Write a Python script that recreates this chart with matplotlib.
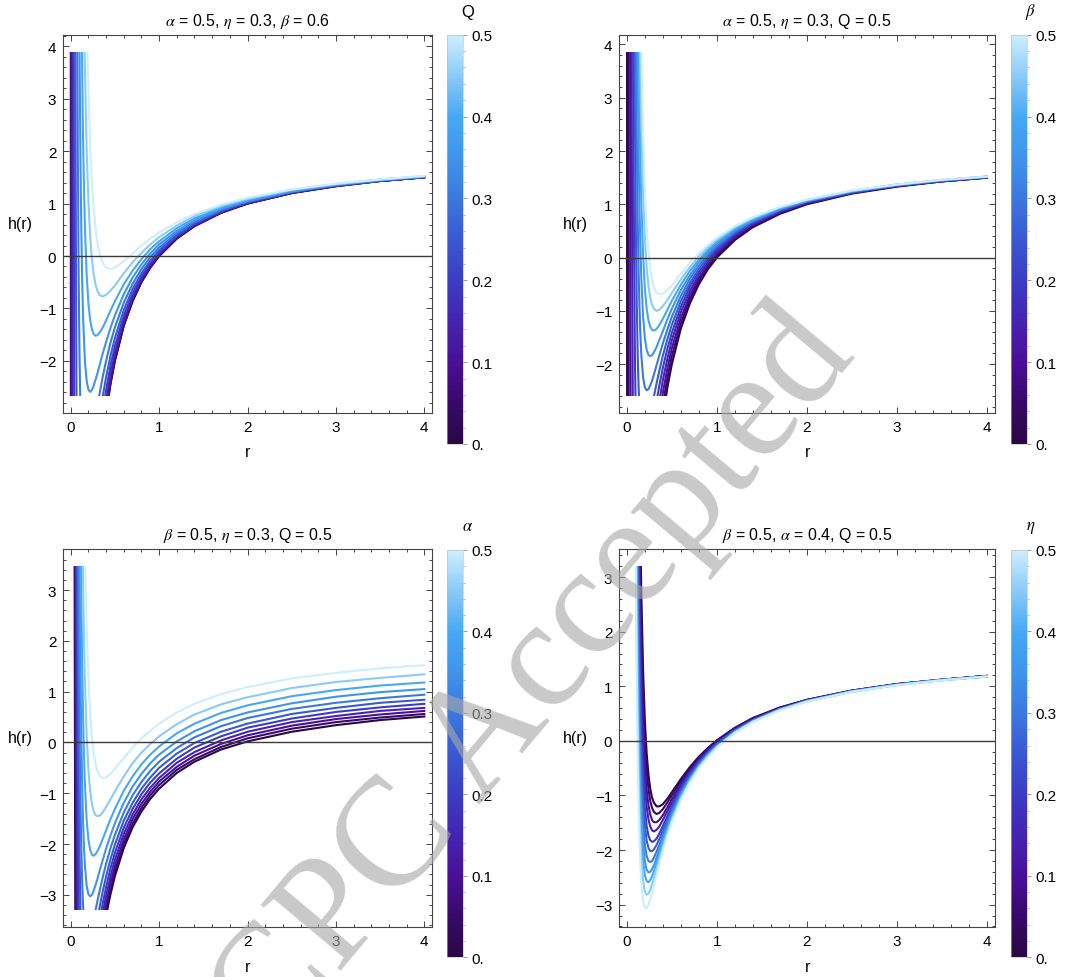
import numpy as np
import matplotlib.pyplot as plt
from matplotlib.colors import LinearSegmentedColormap, Normalize
from matplotlib.cm import ScalarMappable
from matplotlib.patches import Rectangle
from matplotlib.ticker import MultipleLocator, FixedLocator

plt.rcParams['font.family'] = ['Liberation Sans', 'DejaVu Sans']
plt.rcParams['mathtext.fontset'] = 'stix'

nan = np.nan

# outer part of every curve, shared r grid (r >= 0.5)
far_r = [0.5, 0.6, 0.7, 0.8, 0.9, 1.0, 1.2, 1.4, 1.7, 2.0, 2.5, 3.0, 3.5, 4.0]

# ---------------- Q sweep (alpha = 0.5, eta = 0.3, beta = 0.6)
q_vals = [0.0, 0.05, 0.1, 0.15, 0.2, 0.25, 0.3, 0.35, 0.4, 0.45, 0.5]
q_near_r = [
    [0.002, 0.003, nan, 0.40, 0.45],
    [0.002, 0.0025, nan, 0.40, 0.45],
    [0.008, 0.010, nan, 0.40, 0.45],
    [0.018, 0.020, 0.022, nan, 0.36, 0.40, 0.45],
    [0.033, 0.036, 0.040, nan, 0.36, 0.40, 0.45],
    [0.050, 0.055, 0.060, 0.065, 0.070, nan, 0.33, 0.36, 0.40, 0.45],
    [0.07, 0.08, 0.09, 0.10, 0.11, nan, 0.28, 0.30, 0.33, 0.36, 0.40, 0.45],
    [0.09, 0.10, 0.11, 0.12, 0.13, 0.14, 0.16, 0.18, 0.20, 0.22, 0.24, 0.26, 0.28, 0.30, 0.33, 0.36, 0.40, 0.45],
    [0.12, 0.13, 0.14, 0.15, 0.16, 0.18, 0.20, 0.22, 0.24, 0.26, 0.28, 0.30, 0.33, 0.36, 0.40, 0.45],
    [0.14, 0.15, 0.16, 0.18, 0.20, 0.22, 0.24, 0.26, 0.28, 0.30, 0.33, 0.36, 0.40, 0.45],
    [0.18, 0.19, 0.20, 0.22, 0.24, 0.26, 0.28, 0.30, 0.33, 0.36, 0.40, 0.45],
]
q_near_h = [
    [5.0, -5.0, nan, -3.00, -2.44],
    [6.0, -4.0, nan, -2.97, -2.42],
    [30.0, -20.0, nan, -2.89, -2.36],
    [14.4, 2.00, -6.30, nan, -3.25, -2.75, -2.25],
    [6.78, 1.38, -3.50, nan, -3.00, -2.56, -2.09],
    [6.40, 2.33, -0.50, -2.50, -3.92, nan, -3.04, -2.70, -2.31, -1.90],
    [6.08, 2.00, -0.47, -2.00, -2.96, nan, -3.10, -2.89, -2.59, -2.32, -2.00, -1.65],
    [6.69, 3.80, 1.84, 0.47, -0.49, -1.17, -1.99, -2.38, -2.55, -2.59, -2.55, -2.47, -2.36, -2.25, -2.06, -1.87, -1.64, -1.37],
    [5.05, 3.42, 2.20, 1.29, 0.59, -0.35, -0.90, -1.22, -1.40, -1.49, -1.52, -1.51, -1.45, -1.37, -1.23, -1.04],
    [6.13, 4.71, 3.60, 2.03, 1.03, 0.37, -0.07, -0.35, -0.54, -0.66, -0.75, -0.77, -0.74, -0.66],
    [4.62, 3.80, 3.13, 2.10, 1.39, 0.89, 0.54, 0.28, 0.03, -0.12, -0.22, -0.25],
]
q_far_h = [
    [-2.00, -1.33, -0.86, -0.50, -0.22, 0.00, 0.33, 0.57, 0.82, 1.00, 1.20, 1.33, 1.43, 1.50],
    [-1.98, -1.32, -0.85, -0.49, -0.22, 0.00, 0.34, 0.57, 0.83, 1.00, 1.20, 1.33, 1.43, 1.50],
    [-1.93, -1.28, -0.82, -0.47, -0.20, 0.02, 0.35, 0.58, 0.83, 1.00, 1.20, 1.34, 1.43, 1.50],
    [-1.84, -1.22, -0.78, -0.44, -0.17, 0.04, 0.36, 0.59, 0.84, 1.01, 1.21, 1.34, 1.43, 1.50],
    [-1.72, -1.14, -0.71, -0.39, -0.13, 0.07, 0.38, 0.61, 0.85, 1.02, 1.21, 1.34, 1.43, 1.50],
    [-1.56, -1.03, -0.63, -0.33, -0.09, 0.11, 0.41, 0.63, 0.86, 1.03, 1.22, 1.35, 1.44, 1.51],
    [-1.36, -0.89, -0.53, -0.25, -0.02, 0.16, 0.44, 0.65, 0.88, 1.04, 1.23, 1.35, 1.44, 1.51],
    [-1.13, -0.73, -0.41, -0.16, 0.05, 0.22, 0.48, 0.68, 0.90, 1.05, 1.23, 1.36, 1.45, 1.51],
    [-0.86, -0.54, -0.28, -0.06, 0.13, 0.28, 0.53, 0.72, 0.92, 1.07, 1.25, 1.36, 1.45, 1.52],
    [-0.56, -0.33, -0.12, 0.06, 0.22, 0.36, 0.58, 0.76, 0.95, 1.09, 1.26, 1.37, 1.46, 1.52],
    [-0.22, -0.10, 0.05, 0.20, 0.33, 0.45, 0.64, 0.80, 0.98, 1.11, 1.27, 1.38, 1.46, 1.53],
]

# ---------------- beta sweep (alpha = 0.5, eta = 0.3, Q = 0.5)
b_vals = [0.0, 0.05, 0.1, 0.15, 0.2, 0.25, 0.3, 0.35, 0.4, 0.45, 0.5]
b_near_r = [
    [0.002, 0.003, nan, 0.40, 0.45],
    [0.017, 0.020, nan, 0.40, 0.45],
    [0.034, 0.037, 0.040, 0.043, nan, 0.36, 0.40, 0.45],
    [0.050, 0.055, 0.060, 0.065, 0.070, nan, 0.33, 0.36, 0.40, 0.45],
    [0.065, 0.070, 0.080, 0.090, 0.100, nan, 0.30, 0.33, 0.36, 0.40, 0.45],
    [0.08, 0.09, 0.10, 0.11, 0.12, 0.13, 0.14, nan, 0.26, 0.28, 0.30, 0.33, 0.36, 0.40, 0.45],
    [0.09, 0.10, 0.11, 0.12, 0.13, 0.14, 0.15, 0.16, 0.18, 0.20, 0.22, 0.24, 0.26, 0.28, 0.30, 0.33, 0.36, 0.40, 0.45],
    [0.11, 0.12, 0.13, 0.14, 0.15, 0.16, 0.18, 0.20, 0.22, 0.24, 0.26, 0.28, 0.30, 0.33, 0.36, 0.40, 0.45],
    [0.12, 0.13, 0.14, 0.15, 0.16, 0.18, 0.20, 0.22, 0.24, 0.26, 0.28, 0.30, 0.33, 0.36, 0.40, 0.45],
    [0.13, 0.14, 0.15, 0.16, 0.18, 0.20, 0.22, 0.24, 0.26, 0.28, 0.30, 0.33, 0.36, 0.40, 0.45],
    [0.14, 0.15, 0.16, 0.17, 0.18, 0.20, 0.22, 0.24, 0.26, 0.28, 0.30, 0.33, 0.36, 0.40, 0.45],
]
b_near_h = [
    [5.0, -5.0, nan, -3.00, -2.44],
    [12.8, -5.25, nan, -2.77, -2.26],
    [7.37, 2.15, -1.63, -4.38, nan, -2.98, -2.54, -2.08],
    [6.52, 2.43, -0.42, -2.43, -3.86, nan, -3.04, -2.70, -2.30, -1.90],
    [6.36, 3.71, 0.19, -1.90, -3.16, nan, -3.02, -2.70, -2.41, -2.07, -1.71],
    [5.97, 2.67, 0.54, -0.86, -1.79, -2.41, -2.83, nan, -2.95, -2.78, -2.61, -2.36, -2.13, -1.84, -1.53],
    [7.25, 4.25, 2.21, 0.78, -0.22, -0.93, -1.44, -1.81, -2.24, -2.44, -2.49, -2.47, -2.40, -2.31, -2.20, -2.02, -1.84, -1.61, -1.35],
    [5.27, 3.36, 1.98, 0.96, 0.21, -0.36, -1.10, -1.51, -1.73, -1.83, -1.85, -1.83, -1.78, -1.68, -1.55, -1.38, -1.16],
    [5.94, 4.17, 2.85, 1.85, 1.09, 0.05, -0.58, -0.96, -1.18, -1.30, -1.36, -1.37, -1.34, -1.27, -1.15, -0.98],
    [6.37, 4.74, 3.50, 2.54, 1.19, 0.35, -0.19, -0.54, -0.75, -0.89, -0.96, -1.00, -0.98, -0.91, -0.80],
    [6.64, 5.15, 3.99, 3.07, 2.34, 1.27, 0.57, 0.11, -0.21, -0.41, -0.55, -0.66, -0.69, -0.68, -0.61],
]
b_far_h = [
    [-2.00, -1.33, -0.86, -0.50, -0.22, 0.00, 0.33, 0.57, 0.82, 1.00, 1.20, 1.33, 1.43, 1.50],
    [-1.85, -1.23, -0.78, -0.44, -0.18, 0.04, 0.36, 0.59, 0.84, 1.01, 1.21, 1.34, 1.43, 1.50],
    [-1.70, -1.13, -0.71, -0.38, -0.13, 0.07, 0.38, 0.61, 0.85, 1.02, 1.21, 1.34, 1.43, 1.50],
    [-1.55, -1.02, -0.63, -0.33, -0.08, 0.11, 0.41, 0.63, 0.86, 1.03, 1.22, 1.35, 1.44, 1.51],
    [-1.41, -0.92, -0.55, -0.27, -0.04, 0.15, 0.44, 0.65, 0.87, 1.04, 1.22, 1.35, 1.44, 1.51],
    [-1.26, -0.82, -0.48, -0.21, 0.01, 0.19, 0.46, 0.67, 0.89, 1.05, 1.23, 1.35, 1.44, 1.51],
    [-1.11, -0.72, -0.40, -0.15, 0.05, 0.22, 0.49, 0.68, 0.90, 1.06, 1.24, 1.36, 1.45, 1.51],
    [-0.96, -0.61, -0.33, -0.09, 0.10, 0.26, 0.51, 0.70, 0.91, 1.06, 1.24, 1.36, 1.45, 1.52],
    [-0.81, -0.51, -0.25, -0.04, 0.14, 0.30, 0.54, 0.72, 0.93, 1.07, 1.25, 1.37, 1.45, 1.52],
    [-0.66, -0.41, -0.18, 0.02, 0.19, 0.33, 0.57, 0.74, 0.94, 1.08, 1.25, 1.37, 1.46, 1.52],
    [-0.52, -0.30, -0.10, 0.08, 0.24, 0.37, 0.59, 0.76, 0.95, 1.09, 1.26, 1.37, 1.46, 1.52],
]

# ---------------- alpha sweep (beta = 0.5, eta = 0.3, Q = 0.5)
a_vals = [0.0, 0.05, 0.1, 0.15, 0.2, 0.25, 0.3, 0.35, 0.4, 0.45, 0.5]
a_near_r = [
    [0.040, 0.045, 0.050, 0.055, nan, 0.40, 0.42, 0.45],
    [0.045, 0.050, 0.055, 0.060, nan, 0.40, 0.42, 0.45],
    [0.050, 0.055, 0.060, 0.065, 0.070, nan, 0.36, 0.40, 0.45],
    [0.055, 0.060, 0.065, 0.070, 0.075, 0.080, nan, 0.36, 0.40, 0.45],
    [0.060, 0.065, 0.070, 0.080, 0.090, 0.100, nan, 0.33, 0.36, 0.40, 0.45],
    [0.070, 0.075, 0.080, 0.090, 0.100, 0.110, 0.120, nan, 0.30, 0.33, 0.36, 0.40, 0.45],
    [0.08, 0.09, 0.10, 0.11, 0.12, 0.13, 0.14, 0.15, nan, 0.26, 0.28, 0.30, 0.33, 0.36, 0.40, 0.45],
    [0.095, 0.10, 0.11, 0.12, 0.13, 0.14, 0.15, 0.16, 0.18, 0.20, 0.22, 0.24, 0.26, 0.28, 0.30, 0.33, 0.36, 0.40, 0.45],
    [0.11, 0.12, 0.13, 0.14, 0.15, 0.16, 0.18, 0.20, 0.22, 0.24, 0.26, 0.28, 0.30, 0.33, 0.36, 0.40, 0.45],
    [0.13, 0.14, 0.15, 0.16, 0.18, 0.20, 0.22, 0.24, 0.26, 0.28, 0.30, 0.33, 0.36, 0.40, 0.45],
    [0.15, 0.16, 0.17, 0.18, 0.20, 0.22, 0.24, 0.26, 0.28, 0.30, 0.33, 0.36, 0.40, 0.45],
]
a_near_h = [
    [8.81, 2.24, -2.00, -4.79, nan, -3.42, -3.24, -2.99],
    [7.23, 2.05, -1.43, -3.81, nan, -3.31, -3.13, -2.89],
    [6.79, 2.50, -0.50, -2.63, -4.15, nan, -3.56, -3.18, -2.77],
    [7.13, 3.40, 0.70, -1.27, -2.73, -3.82, nan, -3.39, -3.02, -2.64],
    [8.06, 4.68, 2.17, -1.17, -3.13, -4.30, nan, -3.48, -3.19, -2.85, -2.48],
    [6.31, 3.89, 2.02, -0.59, -2.23, -3.26, -3.92, nan, -3.51, -3.22, -2.95, -2.64, -2.30],
    [5.93, 2.52, 0.31, -1.15, -2.13, -2.78, -3.22, -3.51, nan, -3.47, -3.31, -3.14, -2.90, -2.67, -2.39, -2.08],
    [4.74, 3.43, 1.45, 0.07, -0.89, -1.58, -2.07, -2.41, -2.82, -2.99, -3.03, -3.00, -2.92, -2.81, -2.70, -2.51, -2.33, -2.09, -1.83],
    [4.72, 2.84, 1.48, 0.49, -0.25, -0.80, -1.52, -1.91, -2.12, -2.21, -2.23, -2.20, -2.15, -2.04, -1.91, -1.73, -1.51],
    [4.53, 3.13, 2.08, 1.26, 0.15, -0.54, -0.96, -1.21, -1.35, -1.43, -1.45, -1.44, -1.38, -1.27, -1.12],
    [5.11, 3.95, 3.04, 2.31, 1.25, 0.55, 0.09, -0.22, -0.42, -0.56, -0.66, -0.70, -0.69, -0.62],
]
a_far_h = [
    [-2.63, -2.08, -1.67, -1.36, -1.11, -0.91, -0.60, -0.38, -0.14, 0.02, 0.21, 0.34, 0.44, 0.51],
    [-2.54, -2.00, -1.60, -1.29, -1.04, -0.84, -0.54, -0.33, -0.09, 0.08, 0.27, 0.40, 0.49, 0.56],
    [-2.43, -1.91, -1.51, -1.21, -0.97, -0.77, -0.48, -0.26, -0.03, 0.14, 0.33, 0.46, 0.55, 0.62],
    [-2.31, -1.80, -1.42, -1.12, -0.89, -0.70, -0.40, -0.19, 0.04, 0.21, 0.40, 0.52, 0.62, 0.68],
    [-2.17, -1.68, -1.31, -1.02, -0.79, -0.61, -0.32, -0.10, 0.12, 0.29, 0.47, 0.60, 0.69, 0.76],
    [-2.01, -1.54, -1.19, -0.91, -0.69, -0.50, -0.22, -0.01, 0.21, 0.37, 0.56, 0.68, 0.78, 0.84],
    [-1.82, -1.38, -1.04, -0.78, -0.56, -0.38, -0.11, 0.10, 0.32, 0.48, 0.66, 0.78, 0.87, 0.94],
    [-1.59, -1.19, -0.87, -0.62, -0.41, -0.24, 0.02, 0.22, 0.44, 0.59, 0.77, 0.90, 0.99, 1.05],
    [-1.31, -0.95, -0.67, -0.43, -0.24, -0.08, 0.18, 0.37, 0.58, 0.73, 0.91, 1.03, 1.12, 1.18],
    [-0.96, -0.67, -0.41, -0.20, -0.03, 0.12, 0.36, 0.55, 0.75, 0.89, 1.07, 1.19, 1.27, 1.34],
    [-0.52, -0.31, -0.10, 0.08, 0.23, 0.37, 0.59, 0.76, 0.95, 1.09, 1.26, 1.37, 1.46, 1.52],
]

# ---------------- eta sweep (beta = 0.5, alpha = 0.4, Q = 0.5)
e_vals = [0.0, 0.05, 0.1, 0.15, 0.2, 0.25, 0.3, 0.35, 0.4, 0.45, 0.5]
e_grid = [0.09, 0.10, 0.11, 0.12, 0.13, 0.14, 0.15, 0.16, 0.18, 0.20, 0.22, 0.24, 0.26, 0.28, 0.30, 0.33, 0.36, 0.40, 0.45]
e_near_h = [
    [nan, nan, nan, nan, nan, 5.14, 3.80, 2.76, 1.30, 0.37, -0.23, -0.62, -0.88, -1.04, -1.13, -1.20, -1.20, -1.16, -1.06],
    [nan, nan, nan, nan, 5.99, 4.37, 3.13, 2.18, 0.83, -0.01, -0.54, -0.89, -1.10, -1.23, -1.30, -1.34, -1.32, -1.25, -1.13],
    [nan, nan, nan, nan, 4.98, 3.50, 2.38, 1.51, 0.31, -0.43, -0.90, -1.18, -1.35, -1.45, -1.49, -1.49, -1.45, -1.36, -1.22],
    [nan, nan, nan, 5.90, 4.09, 2.74, 1.71, 0.93, -0.15, -0.81, -1.21, -1.44, -1.57, -1.64, -1.66, -1.63, -1.57, -1.45, -1.29],
    [nan, nan, nan, 4.72, 3.09, 1.87, 0.96, 0.26, -0.68, -1.23, -1.56, -1.74, -1.82, -1.85, -1.84, -1.79, -1.70, -1.56, -1.38],
    [nan, nan, 5.88, 3.82, 2.32, 1.21, 0.38, -0.25, -1.08, -1.56, -1.83, -1.96, -2.02, -2.02, -1.99, -1.91, -1.80, -1.64, -1.44],
    [nan, nan, 4.72, 2.85, 1.49, 0.49, -0.24, -0.79, -1.51, -1.91, -2.11, -2.20, -2.22, -2.20, -2.14, -2.03, -1.91, -1.73, -1.51],
    [nan, 6.17, 3.73, 2.01, 0.78, -0.12, -0.78, -1.26, -1.88, -2.21, -2.36, -2.41, -2.40, -2.35, -2.28, -2.14, -2.00, -1.80, -1.57],
    [nan, 5.17, 2.91, 1.32, 0.19, -0.63, -1.22, -1.65, -2.19, -2.46, -2.57, -2.59, -2.55, -2.48, -2.39, -2.24, -2.08, -1.86, -1.62],
    [6.98, 3.97, 1.92, 0.49, -0.52, -1.24, -1.76, -2.12, -2.56, -2.76, -2.82, -2.80, -2.73, -2.63, -2.52, -2.35, -2.17, -1.94, -1.68],
    [5.50, 2.77, 0.92, -0.35, -1.23, -1.85, -2.29, -2.59, -2.93, -3.06, -3.07, -3.00, -2.90, -2.79, -2.66, -2.46, -2.26, -2.01, -1.74],
]
e_far_h = [
    [-0.94, -0.70, -0.48, -0.29, -0.13, 0.01, 0.24, 0.42, 0.61, 0.75, 0.92, 1.04, 1.12, 1.19],
    [-1.00, -0.74, -0.51, -0.31, -0.14, 0.00, 0.23, 0.41, 0.61, 0.75, 0.92, 1.04, 1.12, 1.19],
    [-1.07, -0.79, -0.55, -0.34, -0.17, -0.02, 0.22, 0.40, 0.60, 0.75, 0.92, 1.04, 1.12, 1.19],
    [-1.13, -0.83, -0.58, -0.36, -0.18, -0.03, 0.21, 0.39, 0.59, 0.74, 0.91, 1.03, 1.12, 1.19],
    [-1.20, -0.88, -0.61, -0.39, -0.21, -0.05, 0.20, 0.38, 0.59, 0.74, 0.91, 1.03, 1.12, 1.18],
    [-1.25, -0.91, -0.64, -0.41, -0.22, -0.06, 0.19, 0.38, 0.58, 0.73, 0.91, 1.03, 1.12, 1.18],
    [-1.31, -0.95, -0.67, -0.43, -0.24, -0.08, 0.18, 0.37, 0.58, 0.73, 0.91, 1.03, 1.12, 1.18],
    [-1.35, -0.99, -0.69, -0.45, -0.25, -0.09, 0.17, 0.36, 0.58, 0.73, 0.91, 1.03, 1.12, 1.18],
    [-1.39, -1.01, -0.71, -0.47, -0.27, -0.10, 0.16, 0.36, 0.57, 0.73, 0.90, 1.03, 1.11, 1.18],
    [-1.44, -1.05, -0.74, -0.48, -0.28, -0.11, 0.15, 0.35, 0.57, 0.72, 0.90, 1.02, 1.11, 1.18],
    [-1.49, -1.08, -0.76, -0.50, -0.30, -0.12, 0.15, 0.35, 0.56, 0.72, 0.90, 1.02, 1.11, 1.18],
]

# colour scale used for all four sweeps
deep_sea = LinearSegmentedColormap.from_list('deepsea', [
    (0.0, '#2a0845'), (0.1, '#38096a'), (0.2, '#4a0f98'), (0.3, '#4424b2'),
    (0.4, '#3c3cc4'), (0.5, '#3a58d3'), (0.6, '#3b78e0'), (0.7, '#3f94eb'),
    (0.8, '#46a8f4'), (0.9, '#8acaf7'), (1.0, '#cdeefd')])
norm = Normalize(0.0, 0.5)

fig = plt.figure(figsize=(10.7, 9.78), dpi=100)
W, H = 1070.0, 978.0


def px_axes(left, top, right, bottom):
    return fig.add_axes([left / W, 1 - bottom / H, (right - left) / W, (bottom - top) / H])


def draw_panel(box, cbox, label_xy, vals, near_r, near_h, far_h, lo, hi,
               title, cbar_label, xlabel_y):
    ax = px_axes(*box)
    span = hi - lo
    ax.set_xlim(-0.084, 4.09)
    ax.set_ylim(lo - 0.05 * span, hi + 0.05 * span)
    clip = Rectangle((-0.5, lo), 5.0, span, transform=ax.transData)
    for v, rn, hn, hf in zip(vals, near_r, near_h, far_h):
        r = list(rn) + far_r
        h = list(hn) + list(hf)
        ln, = ax.plot(r, h, color=deep_sea(norm(v)), lw=1.5, zorder=2)
        ln.set_clip_path(clip)
    ax.axhline(0, color='#3a3a3a', lw=1.0, zorder=3)

    ax.xaxis.set_major_locator(MultipleLocator(1))
    ax.xaxis.set_minor_locator(MultipleLocator(0.2))
    ax.yaxis.set_major_locator(MultipleLocator(1))
    ax.yaxis.set_minor_locator(MultipleLocator(0.2))
    ax.tick_params(which='both', direction='in', top=True, right=True,
                   color='#444444', width=0.7, labelsize=11, pad=5)
    ax.tick_params(which='major', length=4.5)
    ax.tick_params(which='minor', length=2.5)
    for sp in ax.spines.values():
        sp.set_color('#444444')
        sp.set_linewidth(0.8)

    ax.set_title(title, fontsize=11.5, pad=7)
    ax.set_xlabel('r', fontsize=11.5, va='center')
    ax.xaxis.set_label_coords(0.5, xlabel_y)
    ax.set_ylabel('h(r)', fontsize=11.5, rotation=0, ha='center', va='center')
    ax.yaxis.set_label_coords(-0.117, 0.5)

    cax = px_axes(*cbox)
    cb = fig.colorbar(ScalarMappable(norm=norm, cmap=deep_sea), cax=cax)
    cb.outline.set_linewidth(0.4)
    cb.outline.set_edgecolor('#bbbbbb')
    cb.set_ticks([0.0, 0.1, 0.2, 0.3, 0.4, 0.5])
    cb.set_ticklabels(['0.', '0.1', '0.2', '0.3', '0.4', '0.5'])
    cax.yaxis.set_minor_locator(FixedLocator(np.arange(0.0, 0.501, 0.02)))
    cax.tick_params(which='major', length=3, width=0.6, color='#888888',
                    labelsize=11, pad=3)
    cax.tick_params(which='minor', length=1.5, width=0.5, color='#999999')
    fig.text(label_xy[0] / W, 1 - label_xy[1] / H, cbar_label, fontsize=12,
             ha='center', va='center')


draw_panel((63.3, 35.7, 432.3, 414.3), (447, 35.7, 463, 445), (468, 12),
           q_vals, q_near_r, q_near_h, q_far_h, -2.67, 3.89,
           r'$\alpha$ = 0.5, $\eta$ = 0.3, $\beta$ = 0.6', 'Q', -0.102)
draw_panel((619.3, 35.7, 995, 414.3), (1010.7, 35.7, 1026.7, 445), (1031, 12),
           b_vals, b_near_r, b_near_h, b_far_h, -2.60, 3.86,
           r'$\alpha$ = 0.5, $\eta$ = 0.3, Q = 0.5', r'$\beta$', -0.102)
draw_panel((63.3, 550, 432.3, 927.7), (447, 551, 463, 958.3), (468, 527),
           a_vals, a_near_r, a_near_h, a_far_h, -3.29, 3.47,
           r'$\beta$ = 0.5, $\eta$ = 0.3, Q = 0.5', r'$\alpha$', -0.105)
draw_panel((619.3, 550, 995, 927.7), (1010.7, 551, 1026.7, 958.3), (1031, 528),
           e_vals, [e_grid] * len(e_vals), e_near_h, e_far_h, -3.09, 3.20,
           r'$\beta$ = 0.5, $\alpha$ = 0.4, Q = 0.5', r'$\eta$', -0.105)

# journal stamp across the page
fig.text(535 / W, 1 - 680 / H, 'CPC Accepted', fontsize=112,
         family='Liberation Serif', color='#a8a8a8', alpha=0.62,
         rotation=50, rotation_mode='anchor', ha='center', va='center',
         zorder=20)

fig.savefig('out.png', dpi=100)
